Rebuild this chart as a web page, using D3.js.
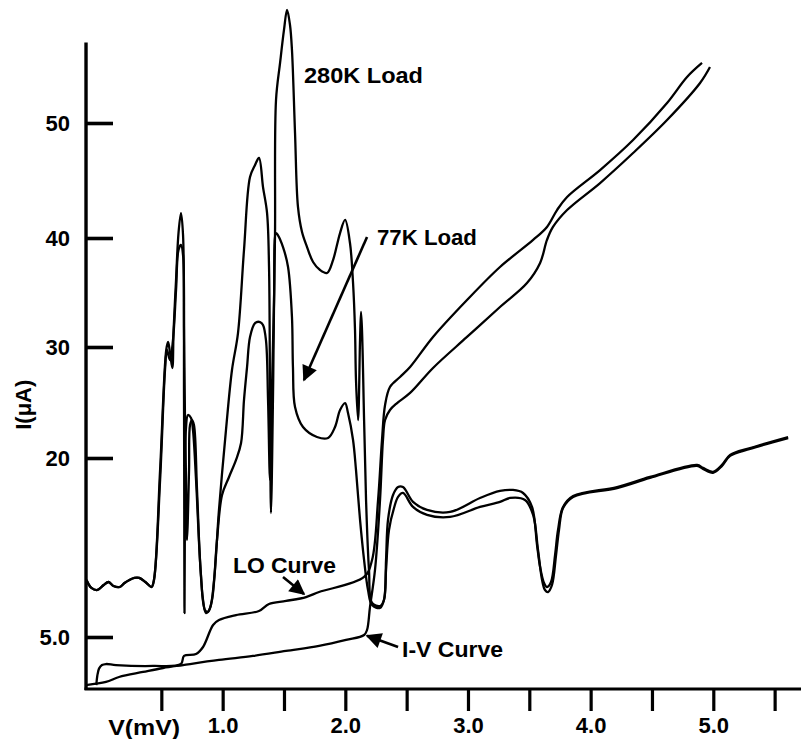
<!DOCTYPE html>
<html>
<head>
<meta charset="utf-8">
<script src="https://cdn.jsdelivr.net/npm/d3@7/dist/d3.min.js"></script>
<style>
  html, body { margin: 0; padding: 0; background: #fff; }
  svg { display: block; }
  text { font-family: "Liberation Sans", Arial, Helvetica, sans-serif; fill: #000; }
</style>
</head>
<body>
<svg id="chart" width="801" height="739"></svg>
<script>
// ---- data (V in mV, I in µA) ----
const load280K = [
  [-0.11,9.78],[-0.07,9.11],[-0.02,8.94],[0.03,9.36],[0.07,9.61],[0.11,9.27],[0.16,9.19],[0.20,9.53],
  [0.24,9.78],[0.28,9.95],[0.32,9.95],[0.37,9.61],[0.42,9.19],[0.44,9.78],[0.49,19.0],[0.54,29.73],
  [0.555,30.46],[0.57,29.55],[0.59,28.11],[0.60,31.56],[0.62,36.15],[0.64,40.43],[0.66,42.17],[0.677,40.26],
  [0.685,25.23],[0.689,7.01],[0.693,16.48],[0.70,22.52],[0.717,23.87],[0.742,23.60],[0.758,22.52],[0.783,18.16],
  [0.815,11.45],[0.84,8.10],[0.864,7.01],[0.897,7.43],[0.93,9.78],[0.97,15.65],[1.027,22.52],[1.076,27.93],
  [1.125,31.28],[1.174,38.90],[1.223,45.30],[1.264,46.35],[1.296,46.96],[1.329,44.43],[1.362,42.17],[1.378,37.34],
  [1.386,25.23],[1.394,15.39],[1.41,25.23],[1.419,34.31],[1.427,40.43],[1.435,52.0],[1.468,55.22],[1.50,58.09],
  [1.525,59.83],[1.549,58.52],[1.565,56.35],[1.59,49.13],[1.614,42.70],[1.647,40.52],[1.688,39.17],[1.737,37.80],
  [1.794,37.06],[1.851,36.79],[1.90,37.98],[1.932,39.36],[1.957,40.43],[1.998,41.57],[2.038,39.54],[2.063,35.87],
  [2.079,31.56],[2.087,27.03],[2.104,23.42],[2.12,30.64],[2.128,33.21],[2.136,31.56],[2.153,23.42],[2.169,16.48],
  [2.193,10.62],[2.218,7.85],[2.283,7.60],[2.315,8.10],[2.332,11.45],[2.348,14.81],[2.389,16.90],[2.43,17.57],
  [2.47,17.57],[2.552,16.32],[2.666,15.65],[2.854,15.48],[3.098,16.65],[3.261,17.24],[3.367,17.32],[3.449,17.07],
  [3.522,15.90],[3.563,12.71],[3.588,10.87],[3.62,9.53],[3.644,9.19],[3.677,9.61],[3.71,11.87],[3.734,13.97],
  [3.775,15.90],[3.857,16.82],[4.215,17.57],[4.484,18.41],[4.868,19.42],[4.916,19.17],[4.998,18.84],[5.071,19.42],
  [5.137,20.27],[5.30,20.90],[5.61,21.89]
];
const load77K = [
  [-0.11,9.78],[-0.07,9.11],[-0.02,8.94],[0.03,9.36],[0.07,9.61],[0.11,9.27],[0.16,9.19],[0.20,9.53],
  [0.24,9.78],[0.28,9.95],[0.32,9.95],[0.37,9.61],[0.42,9.19],[0.44,9.78],[0.49,18.16],[0.53,27.93],
  [0.546,29.73],[0.57,28.83],[0.595,30.64],[0.62,35.23],[0.64,38.90],[0.66,39.36],[0.677,38.44],[0.685,31.56],
  [0.693,23.42],[0.70,19.0],[0.709,13.13],[0.726,19.0],[0.734,22.97],[0.75,23.42],[0.766,22.97],[0.791,17.32],
  [0.823,10.20],[0.856,7.26],[0.881,7.10],[0.913,8.10],[0.954,13.13],[0.995,16.90],[1.052,18.41],[1.109,19.84],
  [1.15,21.35],[1.174,25.23],[1.199,28.20],[1.223,30.92],[1.264,32.20],[1.305,32.29],[1.329,32.02],[1.353,30.64],
  [1.37,25.23],[1.386,18.16],[1.40,25.23],[1.419,34.31],[1.435,40.43],[1.45,40.26],[1.492,39.17],[1.533,37.34],
  [1.565,32.75],[1.573,28.20],[1.59,24.59],[1.655,22.79],[1.769,21.89],[1.859,21.80],[1.916,22.79],[1.957,24.32],
  [1.998,24.95],[2.022,24.05],[2.063,21.62],[2.087,19.0],[2.12,14.81],[2.153,11.45],[2.185,8.94],[2.218,7.68],
  [2.283,7.43],[2.315,8.10],[2.332,10.62],[2.356,13.97],[2.397,15.81],[2.43,16.74],[2.47,17.07],[2.552,15.90],
  [2.666,15.23],[2.854,15.06],[3.098,15.90],[3.261,16.32],[3.343,16.65],[3.465,16.48],[3.531,15.23],[3.571,12.29],
  [3.604,9.78],[3.628,8.94],[3.653,8.77],[3.685,9.36],[3.718,11.87],[3.742,13.97],[3.775,15.81],[3.857,16.74],
  [4.215,17.48],[4.484,18.33],[4.868,19.34],[4.916,19.09],[4.998,18.76],[5.071,19.34],[5.137,20.19],[5.30,20.82],
  [5.61,21.80]
];
const loCurve = [
  [-0.03,0.29],[-0.022,1.2],[-0.008,1.9],[0.016,2.25],[0.049,2.35],[0.13,2.25],[0.432,2.16],[0.66,2.35],[0.685,3.14],
  [0.783,3.33],[0.84,4.02],[0.922,6.01],[0.97,6.42],[1.109,6.84],[1.296,7.18],[1.378,7.77],[1.517,8.02],
  [1.68,8.35],[1.786,8.77],[2.153,10.03],[2.218,11.45],[2.267,16.48],[2.299,21.62],[2.324,24.77],[2.364,26.40],
  [2.446,27.30],[2.528,28.20],[2.715,30.92],[2.992,34.31],[3.261,37.34],[3.531,39.82],[3.644,40.96],[3.726,42.43],
  [3.808,43.57],[4.077,45.91],[4.346,48.52],[4.623,51.74],[4.786,54.0],[4.908,55.22]
];
const ivCurve = [
  [-0.114,0.29],[0.049,0.59],[0.155,1.08],[0.351,1.57],[0.514,1.96],[0.677,2.25],[0.97,2.75],[1.247,3.14],
  [1.516,3.63],[1.786,4.12],[2.006,4.71],[2.153,5.17],[2.177,5.59],[2.201,7.51],[2.242,10.62],[2.283,16.48],
  [2.307,21.62],[2.324,23.42],[2.364,24.32],[2.422,24.95],[2.528,25.86],[2.715,28.11],[2.992,30.92],[3.261,33.67],
  [3.481,35.87],[3.588,37.71],[3.644,39.82],[3.693,40.96],[3.808,42.43],[4.077,44.78],[4.346,47.39],[4.623,50.26],
  [4.892,53.48],[4.973,54.87]
];
const xTickValues = [0.5,1.0,1.5,2.0,2.5,3.0,3.5,4.0,4.5,5.0,5.5];
const xTickLabels = ["","1.0","","2.0","","3.0","","4.0","","5.0",""];
const yTickValues = [5,20,30,40,50];
const yTickLabels = ["5.0","20","30","40","50"];
const annotations = [
  {text:"280K Load", v:1.663, i:53.48, len:119},
  {text:"77K Load", v:2.258, i:39.36, len:100},
  {text:"LO Curve", v:1.084, i:10.36, len:103},
  {text:"I-V Curve", v:2.462, i:3.04, len:101}
];
const arrows = [
  {from:[2.177,40.09], to:[1.663,27.03]},
  {from:[1.492,10.03], to:[1.663,8.60]},
  {from:[2.43,4.02], to:[2.177,5.10]}
];

// ---- scales ----
const x = d3.scaleLinear().domain([0,5]).range([100,713.3]);
const y = d3.scaleLinear().domain([0,5,20,30,40,50,60]).range([688,637,458,347,238,123,8]);

const svg = d3.select("#chart");
svg.append("rect").attr("width",801).attr("height",739).attr("fill","#fff");

// axes lines
const xMin = -0.114, xMax = 5.72, yTop = 57;
svg.append("line").attr("x1",x(xMin)).attr("x2",x(xMin)).attr("y1",y(yTop)).attr("y2",y(0)+2)
  .attr("stroke","#000").attr("stroke-width",3.4);
svg.append("line").attr("x1",x(xMin)-1.5).attr("x2",x(xMax)).attr("y1",y(0)+1).attr("y2",y(0)+1)
  .attr("stroke","#000").attr("stroke-width",3.2);

// y axis ticks (pointing inward)
const yAxis = d3.axisLeft(y).tickValues(yTickValues)
  .tickFormat((d,i)=>yTickLabels[i]).tickSizeInner(-27).tickSizeOuter(0).tickPadding(16);
const gy = svg.append("g").attr("transform",`translate(${x(xMin)},0)`).call(yAxis);
gy.select(".domain").remove();
gy.selectAll(".tick line").attr("stroke","#000").attr("stroke-width",3.6);
gy.selectAll(".tick text").attr("font-size",22).attr("font-weight","bold").attr("fill","#000")
  .attr("font-family","Liberation Sans, Arial, sans-serif");

// x axis ticks (pointing down)
const xAxis = d3.axisBottom(x).tickValues(xTickValues)
  .tickFormat((d,i)=>xTickLabels[i]).tickSizeInner(22).tickSizeOuter(0).tickPadding(6);
const gx = svg.append("g").attr("transform",`translate(0,${y(0)+1})`).call(xAxis);
gx.select(".domain").remove();
gx.selectAll(".tick line").attr("stroke","#000").attr("stroke-width",3.2);
gx.selectAll(".tick text").attr("font-size",22).attr("font-weight","bold").attr("fill","#000")
  .attr("font-family","Liberation Sans, Arial, sans-serif");

// axis titles
svg.append("text").attr("x",x(0.36)).attr("y",y(0)+47).attr("text-anchor","middle")
  .attr("font-size",22).attr("font-weight","bold").attr("textLength",72).attr("lengthAdjust","spacingAndGlyphs")
  .text("V(mV)");
svg.append("text").attr("transform",`translate(${x(-0.56)},${y(24.8)}) rotate(-90)`)
  .attr("text-anchor","middle").attr("font-size",22).attr("font-weight","bold")
  .text("I(μA)");

// curves
const line = d3.line().x(d=>x(d[0])).y(d=>y(d[1])).curve(d3.curveCatmullRom.alpha(0.5));
[load280K, load77K, loCurve, ivCurve].forEach(data=>{
  svg.append("path").datum(data).attr("d",line).attr("fill","none")
    .attr("stroke","#000").attr("stroke-width",2.3).attr("stroke-linejoin","round");
});

// annotations
annotations.forEach(a=>{
  svg.append("text").attr("x",x(a.v)).attr("y",y(a.i)).attr("font-size",22).attr("font-weight","bold")
    .attr("textLength",a.len).attr("lengthAdjust","spacingAndGlyphs").text(a.text);
});

svg.append("defs").append("marker").attr("id","ah").attr("viewBox","0 0 10 10")
  .attr("refX",9).attr("refY",5).attr("markerWidth",7).attr("markerHeight",6).attr("orient","auto")
  .attr("markerUnits","strokeWidth")
  .append("path").attr("d","M0,0 L10,5 L0,10 z").attr("fill","#000");
arrows.forEach(a=>{
  svg.append("line").attr("x1",x(a.from[0])).attr("y1",y(a.from[1]))
    .attr("x2",x(a.to[0])).attr("y2",y(a.to[1]))
    .attr("stroke","#000").attr("stroke-width",2.6).attr("marker-end","url(#ah)");
});
</script>
</body>
</html>
